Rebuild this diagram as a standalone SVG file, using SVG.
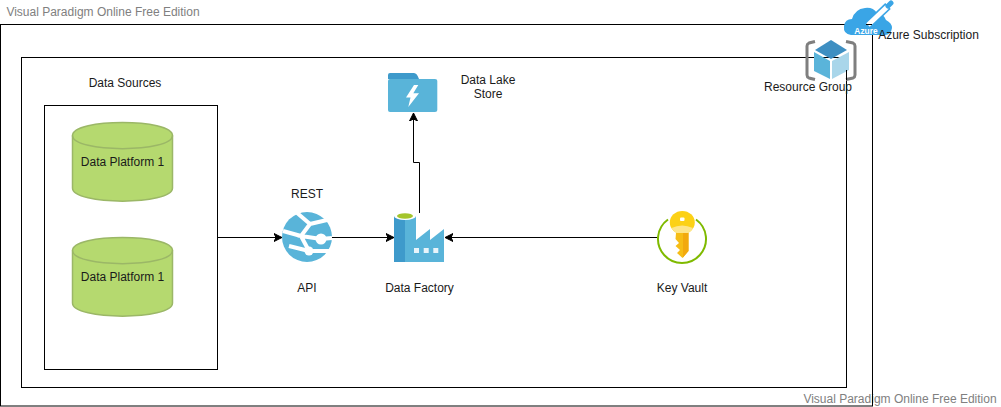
<svg xmlns="http://www.w3.org/2000/svg" width="1001" height="407" viewBox="0 0 1001 407">
<defs>
<marker id="arrow" markerUnits="userSpaceOnUse" markerWidth="10" markerHeight="10" refX="8" refY="5" orient="auto"><path d="M0 1L8 5L0 9L2 5Z" fill="#000" stroke="#000"/></marker>
</defs>
<style>
text{font-family:"Liberation Sans",Arial,sans-serif;font-size:12px;fill:#1a1a1a;text-anchor:middle}
.wm{fill:#808080}
.box{fill:none;stroke:#000;stroke-width:1}
.db{fill:#b5d96f;stroke:#9bb767;stroke-width:1.500}
.conn{fill:none;stroke:#000;stroke-width:1}
</style>
<rect width="1001" height="407" fill="#fff"/>
<text class="wm" x="103" y="15.500">Visual Paradigm Online Free Edition</text>
<text class="wm" x="900" y="402.500">Visual Paradigm Online Free Edition</text>

<g id="azure-subscription">
<rect class="box" x="0.500" y="24.500" width="872" height="381.500"/>
<path d="M851 35Q843 34 844 26Q845 19 852 19Q855 9 865 8Q873 7 877 13Q884 14 886 20Q892 23 892 28Q891 35 885 35Z" fill="#3aa5e6"/>
<path d="M868 25L888 6" stroke="#3aa5e6" stroke-width="8"/>
<path d="M868 25L887 7" stroke="#fff" stroke-width="5"/>
<path d="M888 6L891 3" stroke="#3aa5e6" stroke-width="5" stroke-linecap="round"/>
<path d="M866 24.500H872" stroke="#000" stroke-width="1"/>
<text x="866" y="33.500" style="font-size:8.400px;font-weight:bold;fill:#fff">Azure</text>
<text x="928.500" y="39">Azure Subscription</text>
</g>

<g id="resource-group">
<rect class="box" x="21.500" y="57.500" width="825" height="330"/>
<path d="M815 41.500L809 43Q807 44 807 46V75Q807 77 809 78L815 79.500M846 41.500L853 43Q855 44 855 46V75Q855 77 853 78L846 79.500" fill="none" stroke="#7f7f7f" stroke-width="3"/>
<path d="M831 40L847 50L831 59L815 50Z" fill="#3e8fc2"/>
<path d="M814 52L830 61V79L814 71Z" fill="#5ab4da"/>
<path d="M832 61L849 52V70L832 79Z" fill="#a9d6ea"/>
<path d="M846.500 70V80" stroke="#000" stroke-width="1"/>
<text x="808" y="91">Resource Group</text>
</g>

<g id="data-sources">
<rect class="box" x="44.500" y="105.500" width="173" height="264"/>
<text x="125" y="87">Data Sources</text>
</g>

<g id="data-platform-1">
<path class="db" d="M72.500 135.500C72.500 118 172.500 118 172.500 135.500V188C172.500 205.500 72.500 205.500 72.500 188Z"/>
<path class="db" style="fill:none" d="M72.500 135.500C72.500 153 172.500 153 172.500 135.500"/>
<text x="122.500" y="166">Data Platform 1</text>
</g>
<g id="data-platform-2">
<path class="db" d="M72.500 250.500C72.500 233 172.500 233 172.500 250.500V303C172.500 320.500 72.500 320.500 72.500 303Z"/>
<path class="db" style="fill:none" d="M72.500 250.500C72.500 268 172.500 268 172.500 250.500"/>
<text x="122.500" y="281">Data Platform 1</text>
</g>

<g id="connectors">
<path class="conn" marker-end="url(#arrow)" d="M218 237.500H282"/>
<path class="conn" marker-end="url(#arrow)" d="M332 237.500H394"/>
<path class="conn" marker-end="url(#arrow)" d="M419.500 213V162.500H413.500V113"/>
<path class="conn" marker-end="url(#arrow)" d="M658 237.500H445"/>
</g>

<g id="api">
<circle cx="307" cy="237" r="25" fill="#59b4d9"/>
<path d="M296 212L310 224L301 236L321 239L332 238M301 236L309 251L329 251M309 251L289 246M283 231L301 236M310 224L327 220" fill="none" stroke="#fff" stroke-width="4"/>
<circle cx="321" cy="239" r="5.500" fill="#fff"/>
<circle cx="309" cy="251" r="4.500" fill="#fff"/>
<text x="307" y="198">REST</text>
<text x="307" y="292">API</text>
</g>

<g id="data-factory">
<path d="M394 216H416V262H394Z" fill="#59b4d9"/>
<path d="M394 216H405V262H394Z" fill="#3e9acb"/>
<path d="M416 240L430 229V240L444 229V262H416Z" fill="#59b4d9"/>
<ellipse cx="405" cy="216" rx="11" ry="4" fill="#fff"/>
<ellipse cx="405" cy="216" rx="8" ry="2.800" fill="#a4c52c"/>
<rect x="414" y="248" width="5" height="5" fill="#e8f4fa"/>
<rect x="423.700" y="248" width="5" height="5" fill="#e8f4fa"/>
<rect x="433.300" y="248" width="5" height="5" fill="#e8f4fa"/>
<text x="419.500" y="292">Data Factory</text>
</g>

<g id="data-lake-store">
<path d="M388 79V75Q388 73 390 73H414Q417 73 419 79Z" fill="#3e9acb"/>
<path d="M388 81Q388 79 390 79H435Q437.300 79 437.300 81V110Q437.300 112 435 112H390Q388 112 388 110Z" fill="#59b4d9"/>
<path d="M414 85L406 97.500H410.500L408.300 107L419 93.300H413.300L418.300 85Z" fill="#fff"/>
<text x="488" y="84">Data Lake</text>
<text x="488" y="98">Store</text>
</g>

<g id="key-vault">
<path d="M668 219.500A24 24 0 1 0 696 219.500" fill="none" stroke="#7fba00" stroke-width="2"/>
<ellipse cx="682.300" cy="222.500" rx="12.500" ry="11.500" fill="#fcd116"/>
<path d="M671.500 228Q682 223 693 228Q690 234 682.300 234Q675 234 671.500 228Z" fill="#fde58a"/>
<rect x="680" y="217.500" width="4.500" height="3.500" rx="1" fill="#fff"/>
<path d="M676 233H688.500V251L682.500 258L677 253L680 250L675.500 246L679 243L675.500 239Z" fill="#f6bd16"/>
<path d="M683 233H688.500V251L683 257.500Z" fill="#f2a90e"/>
<text x="682" y="292">Key Vault</text>
</g>
</svg>
